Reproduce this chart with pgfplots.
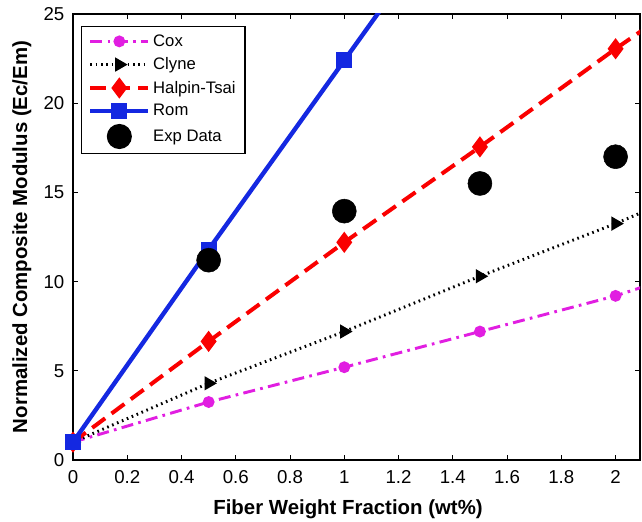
\documentclass[border=0pt]{standalone}
\usepackage{fontspec}
\setmainfont{Liberation Sans}
\usepackage{pgfplots}
\pgfplotsset{compat=1.18}
\definecolor{coxc}{RGB}{225,30,225}
\definecolor{romc}{RGB}{20,40,225}
\definecolor{halc}{RGB}{250,0,0}
\begin{document}
\begin{tikzpicture}
\begin{axis}[
  scale only axis,
  width=425.25pt, height=334.5pt,
  xmin=0, xmax=2.09, ymin=0, ymax=25,
  xtick={0,0.2,0.4,0.6,0.8,1,1.2,1.4,1.6,1.8,2},
  ytick={0,5,10,15,20,25},
  tick align=inside,
  major tick length=4pt,
  axis line style={line width=0.9pt},
  every tick/.style={black, line width=0.8pt},
  /pgf/number format/assume math mode=true,
  tick label style={font=\fontsize{14}{16}\selectfont},
  xticklabel style={yshift=-4.5pt},
  yticklabel style={xshift=-3pt},
  label style={font=\fontsize{15.3}{17}\selectfont\bfseries},
  xlabel={Fiber Weight Fraction (wt\%)},
  ylabel={Normalized Composite Modulus (Ec/Em)},
  xlabel style={at={(axis description cs:0.485,-0.11)}, anchor=center},
  ylabel style={at={(axis description cs:-0.09,0.5)}, anchor=center},
  legend image code/.code={\draw[mark repeat=2,mark phase=2,#1] plot coordinates {(0pt,0pt) (21.75pt,0pt) (43.5pt,0pt)};},
  legend style={at={(axis description cs:0.014,0.973)}, anchor=north west,
    draw=black, line width=0.8pt, font=\fontsize{12.5}{14}\selectfont,
    row sep=3pt, inner xsep=5pt, inner ysep=4pt, cells={anchor=west}},
  legend cell align=left,
]
\addplot[coxc, line width=2.2pt, dash pattern=on 9pt off 4pt on 2pt off 4pt,
  mark=*, mark size=3.3pt, mark options={solid, fill=coxc}]
  coordinates {(0,1) (0.5,3.25) (1,5.2) (1.5,7.2) (2,9.2) (2.1,9.7)};
\addlegendentry{Cox}
\addplot[black, line width=2.2pt, dash pattern=on 1.2pt off 2.8pt,
  mark=triangle*, mark size=4pt, mark options={solid, rotate=-90, fill=black}]
  coordinates {(0,1) (0.5,4.3) (1,7.2) (1.5,10.3) (2,13.25) (2.1,13.9)};
\addlegendentry{Clyne}
\addplot[halc, line width=3pt, dash pattern=on 12pt off 6pt,
  mark=diamond*, mark size=5.5pt, mark options={solid, fill=halc}]
  coordinates {(0,1) (0.5,6.65) (1,12.2) (1.5,17.55) (2,23.05) (2.1,24.1)};
\addlegendentry{Halpin-Tsai}
\addplot[romc, line width=3.3pt, mark=square*, mark size=4.3pt, mark options={solid, fill=romc}]
  coordinates {(0,1) (0.5,11.8) (1,22.4) (1.5,33) (2,43.6) (2.1,45.7)};
\addlegendentry{Rom}
\addplot[black, only marks, mark=*, mark size=9pt]
  coordinates {(0.5,11.2) (1,13.95) (1.5,15.5) (2,17.0)};
\addlegendentry{Exp Data}
\end{axis}
\pgfresetboundingbox
\path ([xshift=-54.75pt,yshift=-45.75pt]current axis.south west) rectangle ([xshift=1.5pt,yshift=10.5pt]current axis.north east);
\end{tikzpicture}
\end{document}
